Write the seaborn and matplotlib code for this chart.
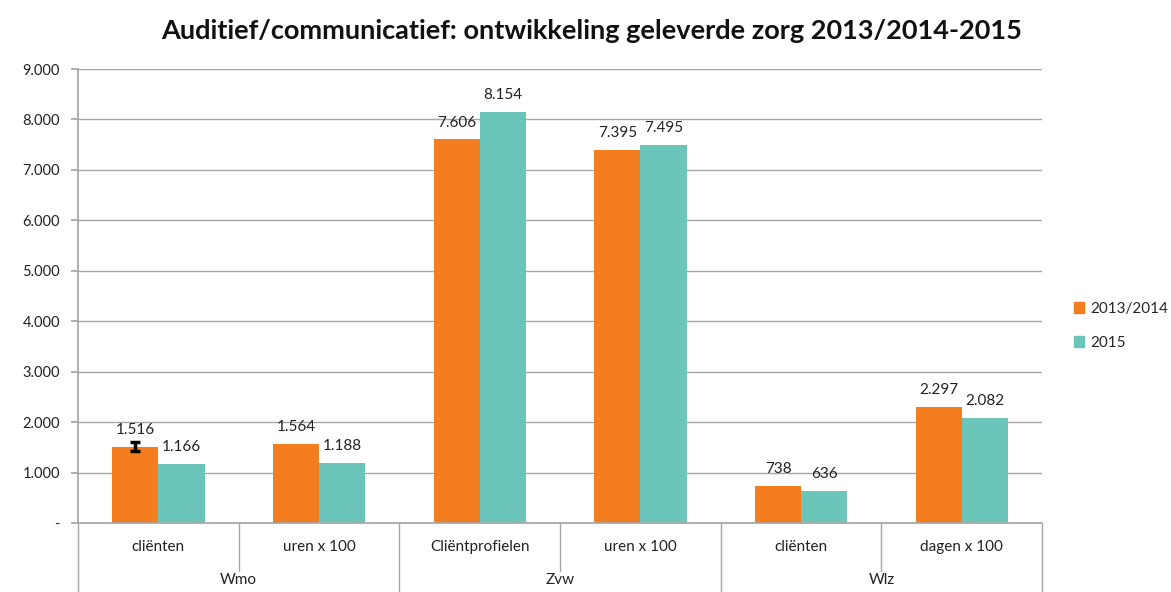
import matplotlib
matplotlib.use("Agg")
import matplotlib.pyplot as plt
import matplotlib.transforms as mtransforms
import seaborn as sns
import pandas as pd
import numpy as np

categories = ["cliënten", "uren x 100", "Cliëntprofielen", "uren x 100", "cliënten", "dagen x 100"]
groups = ["Wmo", "Zvw", "Wlz"]
series_names = ["2013/2014", "2015"]
values_2013 = [1516, 1564, 7606, 7395, 738, 2297]
values_2015 = [1166, 1188, 8154, 7495, 636, 2082]
err_first = 90
yticks = [0, 1000, 2000, 3000, 4000, 5000, 6000, 7000, 8000, 9000]

colors = ["#F47D20", "#6BC5BB"]
grid_col = "#A6A6A6"

def fmt(v):
    if v == 0:
        return "-"
    return f"{v:,.0f}".replace(",", ".")

rows = []
for i in range(len(categories)):
    rows.append({"pos": i, "series": series_names[0], "value": values_2013[i]})
    rows.append({"pos": i, "series": series_names[1], "value": values_2015[i]})
df = pd.DataFrame(rows)

sns.set_theme(style="white")
plt.rcParams["font.family"] = ["Lato", "DejaVu Sans"]

fig = plt.figure(figsize=(11.71, 5.92), dpi=100)
ax = fig.add_axes([0.0666, 0.1166, 0.8234, 0.7668])

sns.barplot(data=df, x="pos", y="value", hue="series", palette=colors,
            width=0.575, saturation=1, ax=ax, errorbar=None, native_scale=False,
            hue_order=series_names, edgecolor="none", linewidth=0)

ax.set_xlim(-0.5, len(categories) - 0.5)
ax.set_ylim(0, 9000)
ax.set_yticks(yticks)
ax.set_yticklabels([fmt(v) for v in yticks], fontsize=10.5, color="#222222")
ax.set_xticks([])
ax.set_xlabel("")
ax.set_ylabel("")
ax.yaxis.grid(True, color=grid_col, linewidth=1)
ax.set_axisbelow(True)
for s in ["top", "right"]:
    ax.spines[s].set_visible(False)
ax.spines["left"].set_color(grid_col)
ax.spines["bottom"].set_color(grid_col)
ax.tick_params(axis="y", left=True, length=5, color=grid_col, pad=8)

# data labels
for cont in ax.containers:
    for p in cont:
        h = p.get_height()
        ax.annotate(fmt(h), (p.get_x() + p.get_width() / 2, h), xytext=(0, 7),
                    textcoords="offset points", ha="center", va="bottom",
                    fontsize=11, color="#222222")

# error bar on first bar
p0 = ax.containers[0][0]
ax.errorbar(p0.get_x() + p0.get_width() / 2, p0.get_height(), yerr=err_first,
            fmt="none", ecolor="black", elinewidth=2.5, capsize=3.5, capthick=2.5)

# multi-level axis
trans = mtransforms.blended_transform_factory(ax.transData, ax.transAxes)
fig_h = 592
ax_h = 0.7668 * fig_h
row1 = -48 / ax_h
row2 = -69 / ax_h
for i in range(len(categories) + 1):
    xb = i - 0.5
    is_group = (i % 2 == 0)
    ax.plot([xb, xb], [0, row2 if is_group else row1], transform=trans,
            color=grid_col, lw=1, clip_on=False)
for i, c in enumerate(categories):
    ax.text(i, -24 / ax_h, c, transform=trans, ha="center", va="center",
            fontsize=11, color="#222222")
for g, name in enumerate(groups):
    ax.text(2 * g + 0.5, -57 / ax_h, name, transform=trans, ha="center",
            va="center", fontsize=11, color="#222222")

ax.legend_.remove()
handles = [plt.Rectangle((0, 0), 1, 1, color=c) for c in colors]
fig.legend(handles, series_names, loc="center left", bbox_to_anchor=(0.905, 0.45),
           frameon=False, fontsize=11, handlelength=0.7, handleheight=0.7,
           labelspacing=1.3, handletextpad=0.4)

fig.text(0.505, 0.948, "Auditief/communicatief: ontwikkeling geleverde zorg 2013/2014-2015",
         ha="center", va="center", fontsize=19.5, fontweight="bold", color="#111111")

fig.savefig("out.png", dpi=100)
